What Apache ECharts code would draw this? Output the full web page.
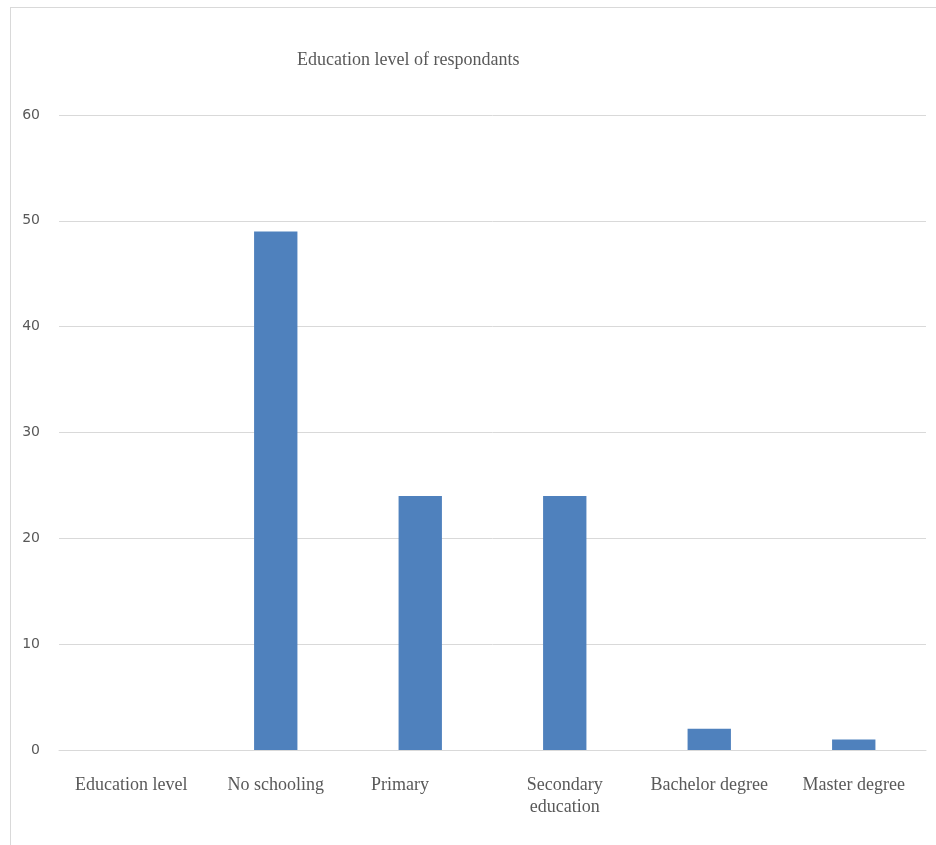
<!DOCTYPE html>
<html>
<head>
<meta charset="utf-8">
<script src="https://cdn.jsdelivr.net/npm/echarts@6/dist/echarts.min.js"></script>
<style>
  html, body { margin: 0; padding: 0; background: #fff; }
  #frame { position: absolute; left: 10px; top: 7px; width: 940px; height: 850px; border: 1px solid #d9d9d9; box-sizing: border-box; }
  #chart { position: absolute; left: 0; top: 0; width: 936px; height: 845px; }
</style>
</head>
<body>
<div id="frame"></div>
<div id="chart"></div>
<script>
// Survey: highest education level reached by respondents
const categories = ['Education level', 'No schooling', 'Primary\u00a0\u00a0\u00a0\u00a0\u00a0\u00a0\u00a0\u00a0\u00a0', 'Secondary\neducation', 'Bachelor degree', 'Master degree'];
const respondents = [0, 49, 24, 24, 2, 1];
const yTicks = { min: 0, max: 60, interval: 10 };

const chart = echarts.init(document.getElementById('chart'), null, { renderer: 'canvas' });
chart.setOption({
  backgroundColor: 'transparent',
  animation: false,
  title: {
    text: 'Education level of respondants',
    left: 292,
    top: 46,
    textStyle: { fontFamily: 'Liberation Serif', fontSize: 18, fontWeight: 'normal', color: '#595959' }
  },
  grid: { left: 59, right: 10, top: 115, bottom: 95, containLabel: false },
  xAxis: {
    type: 'category',
    data: categories,
    axisLine: { show: true, lineStyle: { color: '#d9d9d9', width: 1 } },
    axisTick: { show: false },
    axisLabel: {
      interval: 0,
      margin: 24,
      fontFamily: 'Liberation Serif',
      fontSize: 18,
      lineHeight: 22,
      color: '#595959'
    }
  },
  yAxis: {
    type: 'value',
    min: yTicks.min,
    max: yTicks.max,
    interval: yTicks.interval,
    axisLine: { show: false },
    axisTick: { show: false },
    splitLine: { lineStyle: { color: '#d9d9d9', width: 1 } },
    axisLabel: { margin: 19, fontFamily: 'DejaVu Sans', fontSize: 14, color: '#595959' }
  },
  series: [{
    type: 'bar',
    data: respondents,
    barWidth: '30%',
    itemStyle: { color: '#4f81bd' }
  }]
});
</script>
</body>
</html>
